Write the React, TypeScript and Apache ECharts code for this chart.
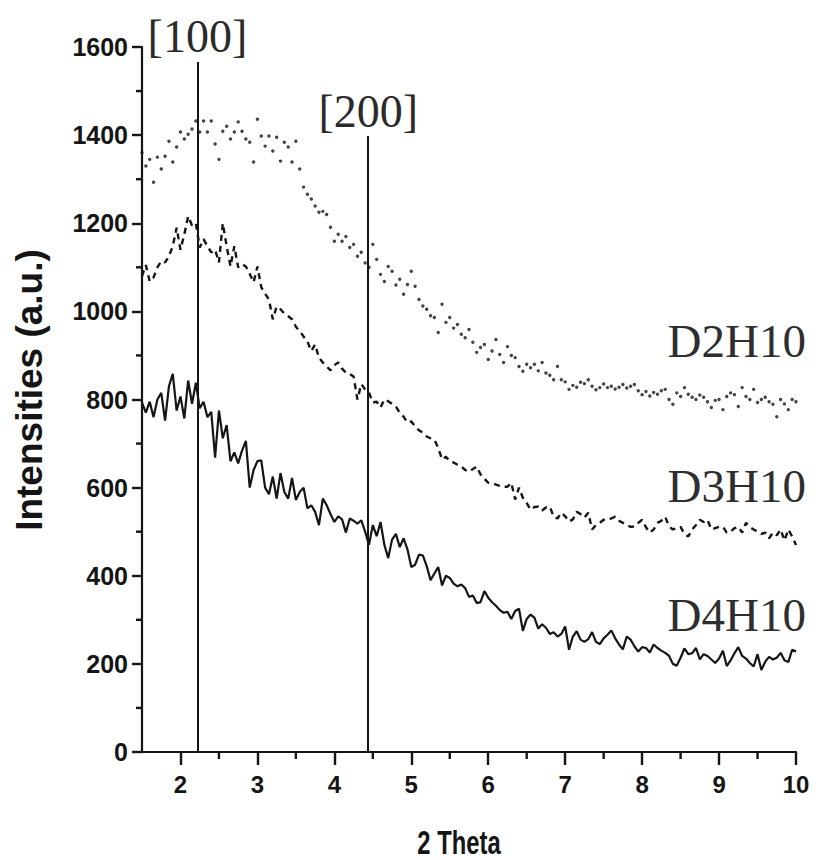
import React, { useEffect, useRef } from 'react';
import * as echarts from 'echarts';

// 2-theta sampling of the recorded patterns
const THETA_START = 1.5;
const THETA_STEP = 0.05;
const THETA_END = 10;

const xTickValues = [2, 3, 4, 5, 6, 7, 8, 9, 10];
const xMinorTickValues = [2.5, 3.5, 4.5, 5.5, 6.5, 7.5, 8.5, 9.5];
const yMin = 0;
const yMax = 1600;
const yInterval = 200;
const yMinorTickValues = [100, 300, 500, 700, 900, 1100, 1300, 1500];

const peakNames = ['[100]', '[200]'];
const peakTheta = [2.22, 4.44];
const peakTop = [1566, 1398];

const seriesNames = ['D2H10', 'D3H10', 'D4H10'];

const d2h10 = [
  1360, 1330, 1345, 1293, 1350, 1323, 1352, 1386, 1339, 1373,
  1407, 1391, 1402, 1414, 1432, 1407, 1432, 1407, 1432, 1380,
  1345, 1409, 1420, 1391, 1407, 1430, 1409, 1391, 1384, 1339,
  1436, 1398, 1375, 1398, 1364, 1395, 1341, 1384, 1373, 1339,
  1386, 1323, 1282, 1266, 1255, 1239, 1225, 1227, 1220, 1191,
  1159, 1175, 1159, 1170, 1145, 1152, 1125, 1134, 1110, 1100,
  1152, 1118, 1084, 1068, 1102, 1091, 1060, 1073, 1039, 1061,
  1091, 1057, 1027, 1012, 1005, 990, 986, 952, 1016, 975,
  986, 962, 970, 948, 940, 959, 930, 907, 918, 925,
  891, 910, 936, 902, 884, 920, 900, 895, 875, 864,
  880, 872, 880, 865, 884, 860, 855, 845, 875, 845,
  840, 823, 832, 828, 839, 836, 845, 830, 822, 827,
  835, 827, 830, 824, 828, 834, 826, 830, 834, 820,
  811, 818, 808, 816, 812, 820, 823, 800, 789, 815,
  807, 827, 812, 805, 800, 810, 805, 795, 782, 798,
  800, 777, 807, 815, 811, 784, 827, 807, 800, 823,
  793, 800, 805, 795, 789, 761, 800, 790, 777, 800,
  795,
];

const d3h10 = [
  1080, 1105, 1068, 1077, 1100, 1114, 1111, 1125, 1148, 1190,
  1140, 1175, 1216, 1195, 1200, 1145, 1164, 1148, 1134, 1140,
  1111, 1200, 1148, 1102, 1148, 1100, 1107, 1102, 1085, 1066,
  1102, 1055, 1040, 1027, 982, 1011, 1005, 995, 989, 982,
  965, 955, 943, 932, 910, 925, 895, 884, 875, 866,
  878, 884, 870, 861, 858, 852, 800, 835, 823, 816,
  793, 795, 782, 800, 796, 790, 784, 770, 761, 748,
  750, 739, 730, 725, 716, 712, 709, 690, 664, 670,
  660, 657, 652, 648, 640, 636, 642, 648, 630, 620,
  611, 610, 607, 604, 602, 602, 611, 573, 600, 577,
  565, 550, 556, 557, 548, 555, 557, 534, 530, 543,
  535, 523, 528, 545, 540, 532, 543, 505, 515, 520,
  527, 527, 530, 534, 525, 520, 515, 511, 512, 520,
  527, 510, 498, 505, 520, 525, 534, 512, 505, 508,
  511, 495, 489, 505, 515, 527, 522, 527, 505, 508,
  511, 511, 498, 500, 508, 511, 498, 520, 510, 505,
  500, 495, 498, 485, 498, 492, 505, 480, 505, 489,
  470,
];

const d4h10 = [
  793, 770, 795, 760, 800, 815, 752, 830, 858, 775,
  807, 757, 843, 790, 838, 780, 795, 760, 772, 668,
  775, 712, 742, 660, 680, 655, 684, 706, 600, 640,
  660, 662, 600, 585, 625, 575, 633, 590, 575, 622,
  572, 590, 600, 553, 560, 545, 515, 575, 560, 540,
  522, 535, 528, 498, 530, 525, 518, 526, 500, 470,
  515, 490, 522, 470, 440, 482, 495, 465, 485, 460,
  420, 425, 448, 446, 422, 390, 405, 420, 378, 400,
  395, 382, 376, 380, 372, 352, 355, 338, 340, 365,
  350, 340, 332, 322, 316, 318, 302, 320, 325, 275,
  302, 312, 305, 280, 290, 282, 268, 272, 262, 268,
  285, 232, 262, 274, 255, 250, 256, 272, 250, 245,
  258, 266, 276, 258, 244, 233, 262, 255, 240, 228,
  238, 236, 226, 244, 236, 230, 225, 218, 200, 196,
  214, 235, 222, 224, 236, 210, 222, 218, 210, 202,
  212, 230, 195, 208, 224, 238, 218, 212, 202, 194,
  222, 186, 205, 216, 210, 214, 225, 208, 204, 232,
  228,
];

const theta = d2h10.map((_, i) => +(THETA_START + i * THETA_STEP).toFixed(2));
const pairs = (vals: number[]) => vals.map((v, i) => [theta[i], v]);

const INK = '#151515';
const tickFont = '"Liberation Sans", Arial, sans-serif';
const serifFont = '"Liberation Serif", "Times New Roman", serif';

export default function App() {
  const ref = useRef<HTMLDivElement>(null);

  useEffect(() => {
    if (!ref.current) return;
    const chart = echarts.init(ref.current, undefined, { renderer: 'svg' });

    const axisLine = { color: INK, width: 2.2 };
    const tickLine = { color: INK, width: 2.4 };

    const option: any = {
      animation: false,
      backgroundColor: '#ffffff',
      grid: { left: 142, right: 20, top: 47, bottom: 108 },
      xAxis: {
        type: 'value',
        min: THETA_START,
        max: THETA_END,
        splitLine: { show: false },
        axisLine: { show: true, onZero: false, lineStyle: axisLine },
        axisTick: { show: true, customValues: xTickValues, length: 13, lineStyle: tickLine },
        axisLabel: {
          show: true,
          customValues: xTickValues,
          margin: 20,
          fontSize: 24,
          fontWeight: 'bold',
          fontFamily: tickFont,
          color: INK,
        },
      },
      yAxis: {
        type: 'value',
        min: yMin,
        max: yMax,
        interval: yInterval,
        splitLine: { show: false },
        axisLine: { show: true, onZero: false, lineStyle: axisLine },
        axisTick: { show: true, length: 10, lineStyle: tickLine },
        axisLabel: {
          margin: 14,
          fontSize: 25,
          fontWeight: 'bold',
          fontFamily: tickFont,
          color: INK,
          formatter: (v: number) => String(v),
        },
      },
      series: [
        {
          name: seriesNames[0],
          type: 'scatter',
          data: pairs(d2h10),
          symbol: 'circle',
          symbolSize: 3.4,
          itemStyle: { color: INK },
          silent: true,
        },
        {
          name: seriesNames[1],
          type: 'line',
          data: pairs(d3h10),
          showSymbol: false,
          symbol: 'none',
          lineStyle: { color: INK, width: 2.4, type: [6, 5] },
          silent: true,
        },
        {
          name: seriesNames[2],
          type: 'line',
          data: pairs(d4h10),
          showSymbol: false,
          symbol: 'none',
          lineStyle: { color: INK, width: 2.2 },
          silent: true,
          markLine: {
            silent: true,
            symbol: 'none',
            lineStyle: { color: INK, width: 2, type: 'solid' },
            label: {
              show: true,
              position: 'end',
              distance: 2,
              formatter: (p: any) => p.name,
              fontFamily: serifFont,
              fontSize: 46,
              color: '#2a2a2a',
            },
            data: peakTheta.map((t, i) => [
              { name: peakNames[i], coord: [t, yMin] },
              { coord: [t, peakTop[i]] },
            ]),
          },
        },
        {
          name: 'xMinorTicks',
          type: 'custom',
          silent: true,
          clip: false,
          data: xMinorTickValues.map((v) => [v, yMin]),
          renderItem: (params: any, api: any) => {
            const p = api.coord([api.value(0), yMin]);
            return {
              type: 'line',
              shape: { x1: p[0], y1: p[1], x2: p[0], y2: p[1] + 7 },
              style: { stroke: INK, lineWidth: 2.4 },
            };
          },
        },
        {
          name: 'yMinorTicks',
          type: 'custom',
          silent: true,
          clip: false,
          data: yMinorTickValues.map((v) => [THETA_START, v]),
          renderItem: (params: any, api: any) => {
            const p = api.coord([THETA_START, api.value(1)]);
            return {
              type: 'line',
              shape: { x1: p[0] - 6, y1: p[1], x2: p[0], y2: p[1] },
              style: { stroke: INK, lineWidth: 2.4 },
            };
          },
        },
      ],
      graphic: [
        {
          type: 'text',
          x: 806,
          y: 341,
          silent: true,
          style: { text: seriesNames[0], align: 'right', verticalAlign: 'middle', font: `47px ${serifFont}`, fill: '#2e2e2e' },
        },
        {
          type: 'text',
          x: 806,
          y: 486,
          silent: true,
          style: { text: seriesNames[1], align: 'right', verticalAlign: 'middle', font: `47px ${serifFont}`, fill: '#2e2e2e' },
        },
        {
          type: 'text',
          x: 806,
          y: 615,
          silent: true,
          style: { text: seriesNames[2], align: 'right', verticalAlign: 'middle', font: `47px ${serifFont}`, fill: '#2e2e2e' },
        },
        {
          type: 'text',
          x: 29,
          y: 390,
          rotation: Math.PI / 2,
          silent: true,
          style: { text: 'Intensities (a.u.)', align: 'center', verticalAlign: 'middle', font: 'bold 37px "Liberation Sans", Arial, sans-serif', fill: INK },
        },
        {
          type: 'text',
          x: 459,
          y: 842,
          scaleX: 0.7,
          silent: true,
          style: { text: '2 Theta', align: 'center', verticalAlign: 'middle', font: 'bold 34px "Liberation Sans", Arial, sans-serif', fill: INK },
        },
      ],
    };

    chart.setOption(option);
    return () => chart.dispose();
  }, []);

  return (
    <div
      ref={ref}
      style={{ position: 'fixed', left: 0, top: 0, width: 816, height: 860, background: '#fff' }}
    />
  );
}
